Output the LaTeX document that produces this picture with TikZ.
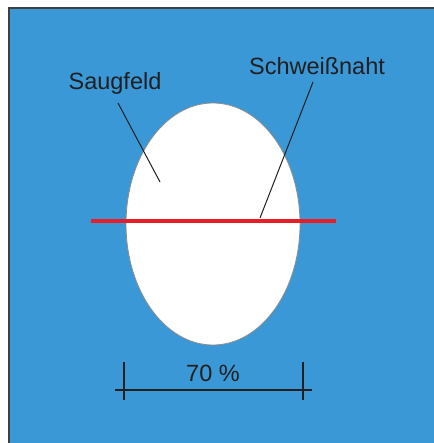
\documentclass[tikz,border=0pt]{standalone}
\usepackage{fontspec}
\setmainfont{Liberation Sans}
\definecolor{bg}{RGB}{57,152,213}
\definecolor{ink}{RGB}{35,31,32}
\definecolor{seam}{RGB}{230,30,40}
\begin{document}
\begin{tikzpicture}[x=1pt,y=-1pt,
  lbl/.style={font=\fontsize{23.5}{26}\selectfont,text=ink,inner sep=0pt},
  leader/.style={draw=ink,line width=1pt},
  dim/.style={draw=ink,line width=1.2pt}]
\useasboundingbox (0,0) rectangle (433,443);
\fill[white] (0,0) rectangle (433,443);
\fill[bg] (9,8) rectangle (440,450);
\draw[draw=black!75,line width=1.5pt] (9,450) -- (9,8) -- (440,8);
\draw[fill=white,draw=black!45,line width=0.8pt] (213,224) ellipse [x radius=87, y radius=121];
\draw[seam,line width=4pt] (91,221) -- (336,221);
\node[lbl] (sf) at (115,83) {Saugfeld};
\node[lbl] (sn) at (317,66) {Schweißnaht};
\coordinate (sfa) at (118,103);
\coordinate (sfb) at (160,182);
\coordinate (sna) at (313,82);
\coordinate (snb) at (260,218);
\draw[leader] (sfa) -- (sfb);
\draw[leader] (sna) -- (snb);
\coordinate (dl) at (115,390);
\coordinate (dr) at (312,390);
\draw[dim] (dl) -- (dr);
\draw[dim] (124,362) -- (124,400);
\draw[dim] (303,362) -- (303,400);
\node[lbl] (pct) at (213,373) {70 \%};
\end{tikzpicture}
\end{document}
